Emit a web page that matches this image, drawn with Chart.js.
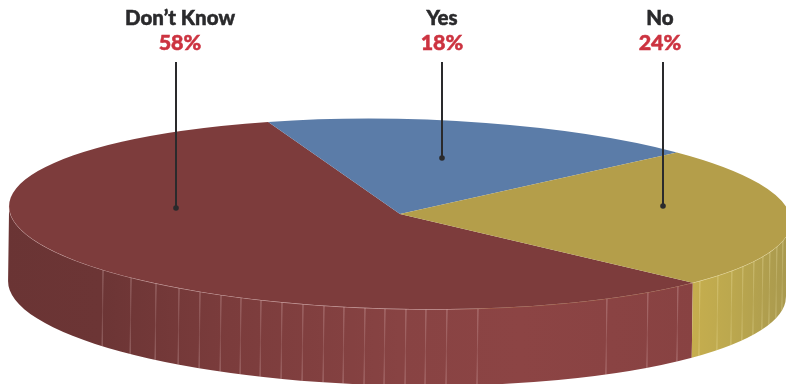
<!DOCTYPE html>
<html>
<head>
<meta charset="utf-8">
<title>Survey responses</title>
<script src="https://cdn.jsdelivr.net/npm/chart.js@4"></script>
<style>
    html, body { margin: 0; padding: 0; background: #fff; overflow: hidden; }
    canvas { display: block; }
</style>
</head>
<body>
<canvas id="pieChart" width="786" height="384"></canvas>
<script>
const categories = ["Don\u2019t Know", "Yes", "No"];
const shares = [58, 18, 24];
const sliceColors = ["#7d3c3c", "#5b7ca8", "#b49e4a"];

// top face and bottom edge of the disc, both slightly tilted
const topFace = { x: 400, y: 214, rx: 391, ry: 95 };
const bottomFace = { x: 397, y: 289, rx: 389, ry: 96.5 };
const tilt = 0.021;

// where the callout lines sit: x, and the y of the dot
const calloutX = [176, 442, 663];
const calloutY = [208, 158, 206];
const labelX = [180, 442, 660];

// wall creases, by their x on the rim
const wallRibs = [103, 131, 156, 179, 200, 221, 241, 261, 282, 303, 324, 344, 365, 385, 406, 426, 447, 478, 607, 648, 678,
    700, 718, 732, 743, 754, 763, 770, 777, 783];

function rimPoint(face, t) {
    const ex = face.rx * Math.cos(t);
    const ey = face.ry * Math.sin(t);
    return {
        x: face.x + ex * Math.cos(tilt) - ey * Math.sin(tilt),
        y: face.y + ex * Math.sin(tilt) + ey * Math.cos(tilt)
    };
}

// front-rim angle on a face for a given x
function angleAtX(face, x) {
    const dx = Math.max(-face.rx, Math.min(face.rx, x - face.x));
    const ey = face.ry * Math.sqrt(1 - (dx / face.rx) ** 2);
    const c = (dx + ey * Math.sin(tilt)) / face.rx;
    return Math.acos(Math.max(-1, Math.min(1, c)));
}

function wallGradient(ctx, stops) {
    const g = ctx.createLinearGradient(0, 0, 786, 0);
    stops.forEach(s => g.addColorStop(s[0] / 786, s[1]));
    return g;
}

function drawWall(ctx, start, end, fill) {
    // the wall drops almost straight down, so the bottom edge is picked by x
    const bottomStart = start <= 0 ? 0 : angleAtX(bottomFace, rimPoint(topFace, start).x - 1);
    const bottomEnd = end >= Math.PI ? Math.PI : angleAtX(bottomFace, rimPoint(topFace, end).x - 1);
    ctx.beginPath();
    ctx.ellipse(topFace.x, topFace.y, topFace.rx, topFace.ry, tilt, start, end);
    ctx.ellipse(bottomFace.x, bottomFace.y, bottomFace.rx, bottomFace.ry, tilt, bottomEnd, bottomStart, true);
    ctx.closePath();
    ctx.fillStyle = fill;
    ctx.fill();
}

const discPlugin = {
    id: "disc",
    beforeDatasetsDraw(chart) {
        const ctx = chart.ctx;
        const arcs = chart.getDatasetMeta(0).data;
        const redWall = wallGradient(ctx, [[0, "#6a3434"], [100, "#6c3535"], [230, "#7b3c3c"], [400, "#884343"], [520, "#8c4444"], [700, "#884242"]]);
        const goldWall = wallGradient(ctx, [[690, "#c6ae4e"], [730, "#bca84e"], [786, "#a9994e"]]);
        const walls = [redWall, null, goldWall];

        // only the front half of the rim shows a wall
        arcs.forEach((arc, i) => {
            if (!walls[i]) return;
            const props = arc.getProps(["startAngle", "endAngle"]);
            let a = props.startAngle;
            let b = props.endAngle;
            if (a > Math.PI) { a -= 2 * Math.PI; b -= 2 * Math.PI; }
            a = Math.max(a, 0);
            b = Math.min(b, Math.PI);
            if (b > a) drawWall(ctx, a, b, walls[i]);
        });

        // creases down the wall, strongest near the top and bottom edges
        ctx.lineWidth = 1;
        wallRibs.forEach(x => {
            const p = rimPoint(topFace, angleAtX(topFace, x));
            const q = rimPoint(bottomFace, angleAtX(bottomFace, p.x - 1));
            const tint = x > 690 ? "255,245,190" : "255,225,225";
            const g = ctx.createLinearGradient(0, p.y, 0, q.y);
            g.addColorStop(0, "rgba(" + tint + ",0.36)");
            g.addColorStop(0.55, "rgba(" + tint + ",0.12)");
            g.addColorStop(1, "rgba(" + tint + ",0.34)");
            ctx.beginPath();
            ctx.moveTo(p.x, p.y);
            ctx.lineTo(q.x, q.y);
            ctx.strokeStyle = g;
            ctx.stroke();
        });

        // highlight along the front rim
        ctx.beginPath();
        ctx.ellipse(topFace.x, topFace.y, topFace.rx, topFace.ry, tilt, 0, Math.PI);
        ctx.strokeStyle = wallGradient(ctx, [[0, "rgba(255,225,225,0.55)"], [450, "rgba(255,225,225,0.5)"], [490, "rgba(190,130,80,0.45)"],
            [689, "rgba(190,130,80,0.5)"], [692, "rgba(255,245,200,0.6)"], [786, "rgba(255,245,200,0.6)"]]);
        ctx.stroke();

        // squash the library's circular pie into the disc's top face
        const centre = arcs[0].getProps(["x", "y", "outerRadius"]);
        ctx.save();
        ctx.translate(topFace.x, topFace.y);
        ctx.rotate(tilt);
        ctx.scale(topFace.rx / centre.outerRadius, topFace.ry / centre.outerRadius);
        ctx.translate(-centre.x, -centre.y);
    },
    afterDatasetsDraw(chart) {
        const ctx = chart.ctx;
        ctx.restore();

        ctx.textAlign = "center";
        ctx.textBaseline = "alphabetic";
        categories.forEach((name, i) => {
            ctx.strokeStyle = "#2a2a2c";
            ctx.lineWidth = 2;
            ctx.beginPath();
            ctx.moveTo(calloutX[i], 62);
            ctx.lineTo(calloutX[i], calloutY[i]);
            ctx.stroke();
            ctx.fillStyle = "#2a2a2c";
            ctx.beginPath();
            ctx.arc(calloutX[i], calloutY[i], 2.8, 0, 2 * Math.PI);
            ctx.fill();

            // a hairline stroke thickens the heavy labels
            ctx.lineWidth = 0.5;
            ctx.font = "900 20.5px Lato";
            ctx.fillText(name, labelX[i], 25);
            ctx.strokeText(name, labelX[i], 25);
            ctx.fillStyle = "#cc3340";
            ctx.strokeStyle = "#cc3340";
            ctx.font = "900 21.5px Lato";
            ctx.fillText(shares[i] + "%", labelX[i], 50);
            ctx.strokeText(shares[i] + "%", labelX[i], 50);
        });
    }
};

new Chart(document.getElementById("pieChart").getContext("2d"), {
    type: "pie",
    data: {
        labels: categories,
        datasets: [{
            data: shares,
            backgroundColor: sliceColors,
            borderWidth: 0
        }]
    },
    options: {
        responsive: false,
        animation: false,
        rotation: 131.2,
        plugins: {
            legend: { display: false },
            tooltip: { enabled: false }
        }
    },
    plugins: [discPlugin]
});
</script>
</body>
</html>
